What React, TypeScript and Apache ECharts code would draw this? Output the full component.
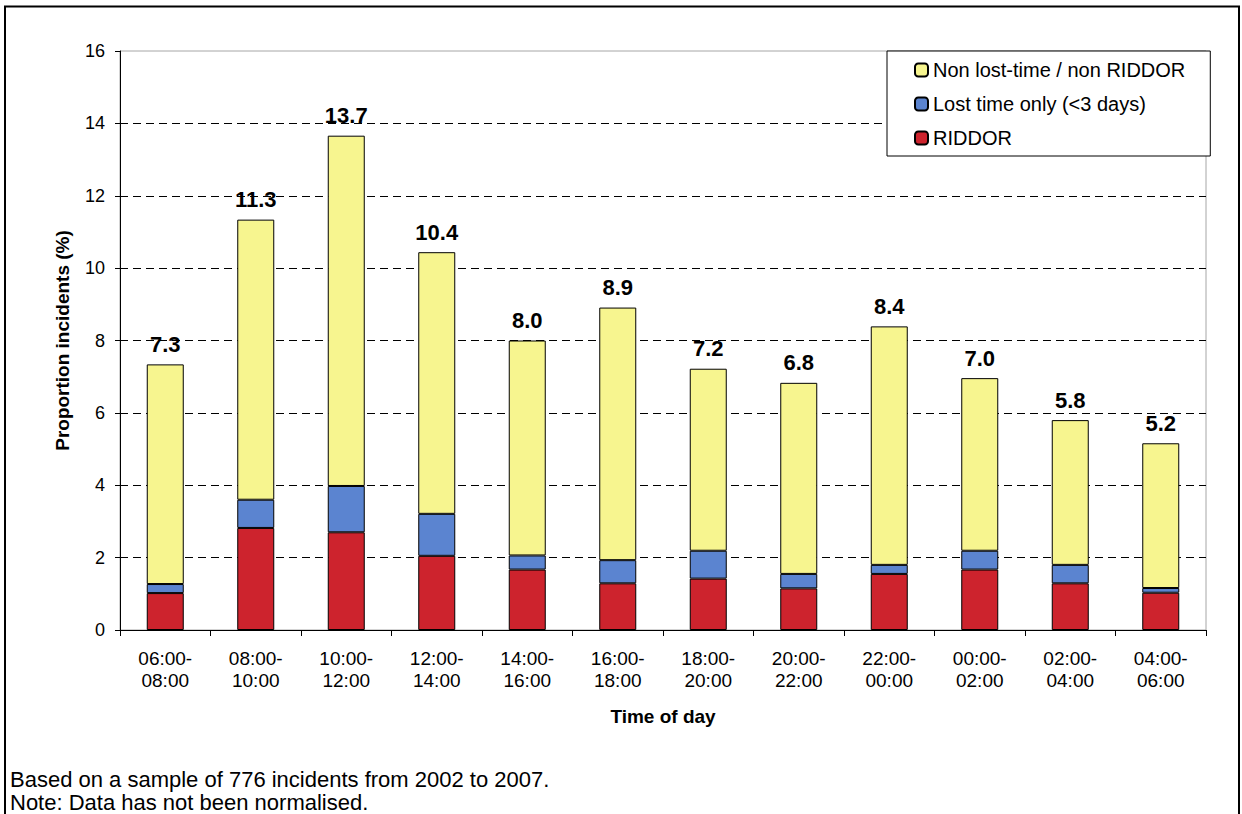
import React, { useEffect, useRef } from "react";
import * as echarts from "echarts";

const categories = [
  "06:00-\n08:00", "08:00-\n10:00", "10:00-\n12:00", "12:00-\n14:00",
  "14:00-\n16:00", "16:00-\n18:00", "18:00-\n20:00", "20:00-\n22:00",
  "22:00-\n00:00", "00:00-\n02:00", "02:00-\n04:00", "04:00-\n06:00",
];
const riddor = [1.02, 2.82, 2.70, 2.05, 1.67, 1.29, 1.42, 1.15, 1.55, 1.67, 1.29, 1.03];
const lostTime = [0.25, 0.78, 1.28, 1.16, 0.39, 0.64, 0.77, 0.40, 0.25, 0.52, 0.51, 0.13];
const nonLost = [6.07, 7.74, 9.68, 7.23, 5.94, 6.98, 5.03, 5.28, 6.59, 4.77, 4.00, 4.00];
const yTicks = [0, 2, 4, 6, 8, 10, 12, 14, 16];

const seriesNames = {
  riddor: "RIDDOR",
  lost: "Lost time only (<3 days)",
  non: "Non lost-time / non RIDDOR",
};
const footerLines = [
  "Based on a sample of 776 incidents from 2002 to 2007.",
  "Note: Data has not been normalised.",
];

const FONT = "'Liberation Sans', Arial, Helvetica, sans-serif";

export default function App() {
  const ref = useRef<HTMLDivElement>(null);
  useEffect(() => {
    if (!ref.current) return;
    const chart = echarts.init(ref.current, null, { renderer: "svg" });
    const totals = riddor.map((r, i) => Math.round((r + lostTime[i] + nonLost[i]) * 10) / 10);
    const barStyle = (color: string) => ({ color, borderColor: "#000", borderWidth: 1 });
    chart.setOption({
      animation: false,
      backgroundColor: "#fff",
      textStyle: { fontFamily: FONT },
      grid: {
        left: 120, right: 36, top: 51, bottom: 184,
        show: true, borderColor: "#a6a6a6", borderWidth: 1, backgroundColor: "transparent",
      },
      legend: {
        orient: "vertical",
        left: 887, top: 51,
        padding: [9, 25, 8, 27],
        itemWidth: 13, itemHeight: 13, itemGap: 14,
        borderColor: "#000", borderWidth: 1,
        backgroundColor: "#fff",
        data: [seriesNames.non, seriesNames.lost, seriesNames.riddor],
        textStyle: { fontFamily: FONT, fontSize: 20, color: "#000", lineHeight: 20 },
      },
      xAxis: {
        type: "category",
        data: categories,
        name: "Time of day",
        nameLocation: "middle",
        nameGap: 77,
        nameTextStyle: { fontFamily: FONT, fontSize: 19, fontWeight: "bold", color: "#000" },
        axisLine: { lineStyle: { color: "#000", width: 1 } },
        axisTick: { show: true, length: 6, lineStyle: { color: "#000" }, alignWithLabel: false },
        axisLabel: {
          fontFamily: FONT, fontSize: 19, color: "#000", lineHeight: 22, margin: 17, interval: 0,
        },
      },
      yAxis: {
        type: "value",
        min: 0, max: 16, interval: 2,
        name: "Proportion incidents (%)",
        nameLocation: "middle",
        nameGap: 48,
        nameTextStyle: { fontFamily: FONT, fontSize: 19, fontWeight: "bold", color: "#000" },
        axisLine: { show: true, lineStyle: { color: "#000", width: 1 } },
        axisTick: { show: true, length: 5, lineStyle: { color: "#000" } },
        axisLabel: {
          fontFamily: FONT, fontSize: 18, color: "#000", margin: 15,
          formatter: (v: number) => (yTicks.includes(v) ? String(v) : ""),
        },
        splitLine: {
          show: true,
          showMaxLine: false,
          lineStyle: { color: "#000", type: [8, 5], width: 1 },
        },
      },
      series: [
        {
          name: seriesNames.riddor, type: "bar", stack: "a", barWidth: 37,
          data: riddor, itemStyle: barStyle("#CD232D"),
        },
        {
          name: seriesNames.lost, type: "bar", stack: "a", barWidth: 37,
          data: lostTime, itemStyle: barStyle("#5B84D0"),
        },
        {
          name: seriesNames.non, type: "bar", stack: "a", barWidth: 37,
          data: nonLost, itemStyle: barStyle("#F7F58F"),
          label: {
            show: true, position: "top", distance: 9,
            fontFamily: FONT, fontSize: 22, fontWeight: "bold", color: "#000",
            formatter: (p: any) => totals[p.dataIndex].toFixed(1),
          },
        },
      ],
      graphic: [
        {
          type: "rect", silent: true, z: 100,
          shape: { x: 5, y: 6.5, width: 1234, height: 900 },
          style: { fill: "none", stroke: "#000", lineWidth: 2 },
        },
        ...footerLines.map((t, i) => ({
          type: "text", left: 10, top: 768 + i * 23,
          style: { text: t, fontFamily: FONT, fontSize: 22, fill: "#000" },
        })),
      ],
    });
    return () => chart.dispose();
  }, []);
  return (
    <div
      ref={ref}
      style={{ position: "absolute", left: 0, top: 0, width: 1242, height: 814 }}
    />
  );
}
